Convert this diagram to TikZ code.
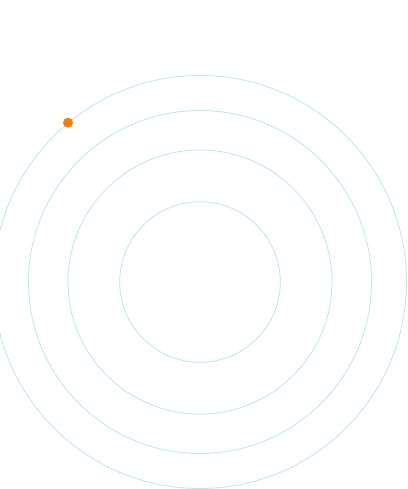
\documentclass[tikz,border=0pt]{standalone}
\usepackage{xcolor}
\usepackage{tikz}
\definecolor{ring}{HTML}{BFE8DE}
\definecolor{orbiter}{HTML}{FF7A00}

\begin{document}
\begin{tikzpicture}[
  x=1pt,y=-1pt,
  orbit/.style={draw=ring,line width=0.8pt},
  planet/.style={circle,fill=orbiter,inner sep=0pt,minimum size=10pt}
]
\useasboundingbox (0,0) rectangle (407,489);
\coordinate (center) at (200,282);
\foreach \r in {80.3,132,171.5,206.5}
  \draw[orbit] (center) circle[radius=\r];
\node[planet] (dot) at (68,122.7) {};
\end{tikzpicture}
\end{document}
